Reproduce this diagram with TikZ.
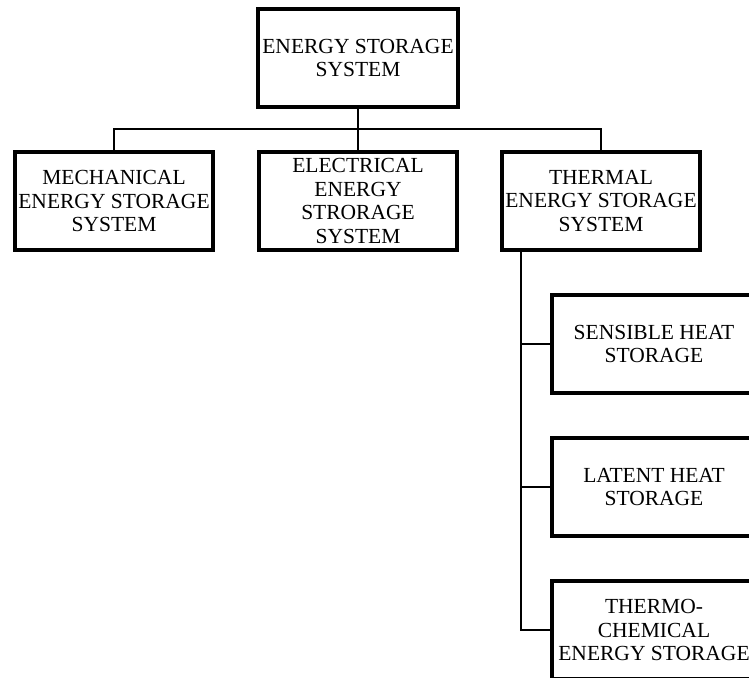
\documentclass[tikz,border=0pt]{standalone}
\usepackage{fontspec}
\setmainfont{Liberation Serif}
\begin{document}
\begin{tikzpicture}[
    x=1pt,y=-1pt,
    block/.style={
        draw,
        line width=4pt,
        minimum width=198pt,
        minimum height=98pt,
        inner sep=0pt,
        align=center,
        font=\fontsize{21.5}{23.5}\selectfont
    },
    leaf/.style={
        block,
        minimum width=204pt
    },
    link/.style={
        line width=2.6pt
    }
    ]
  \useasboundingbox (0,0) rectangle (749,677);
  \clip (0,0) rectangle (749,677);

  \node[block,minimum width=200pt] (ess) at (358,58) {ENERGY STORAGE\\SYSTEM};

  \node[block] (mech) at (114,201) {MECHANICAL\\ENERGY STORAGE\\SYSTEM};
  \node[block] (elec) at (358,201) {ELECTRICAL\\ENERGY\\STRORAGE\\SYSTEM};
  \node[block] (therm) at (601,201) {THERMAL\\ENERGY STORAGE\\SYSTEM};

  \node[leaf] (sens) at (654,344) {SENSIBLE HEAT\\STORAGE};
  \node[leaf] (lat) at (654,487) {LATENT HEAT\\STORAGE};
  \node[leaf] (chem) at (654,630) {THERMO-\\CHEMICAL\\ENERGY STORAGE};

  \coordinate (bus) at (358,129);
  \coordinate (trunk) at ([xshift=-80pt]therm.south);

  \draw[link] (ess.south) -- (bus);
  \draw[link] (mech.north) |- (bus) -| (therm.north);
  \draw[link] (bus) -- (elec.north);

  \draw[link] (trunk) |- (chem.west);
  \draw[link] (trunk |- sens.west) -- (sens.west);
  \draw[link] (trunk |- lat.west) -- (lat.west);
\end{tikzpicture}
\end{document}
